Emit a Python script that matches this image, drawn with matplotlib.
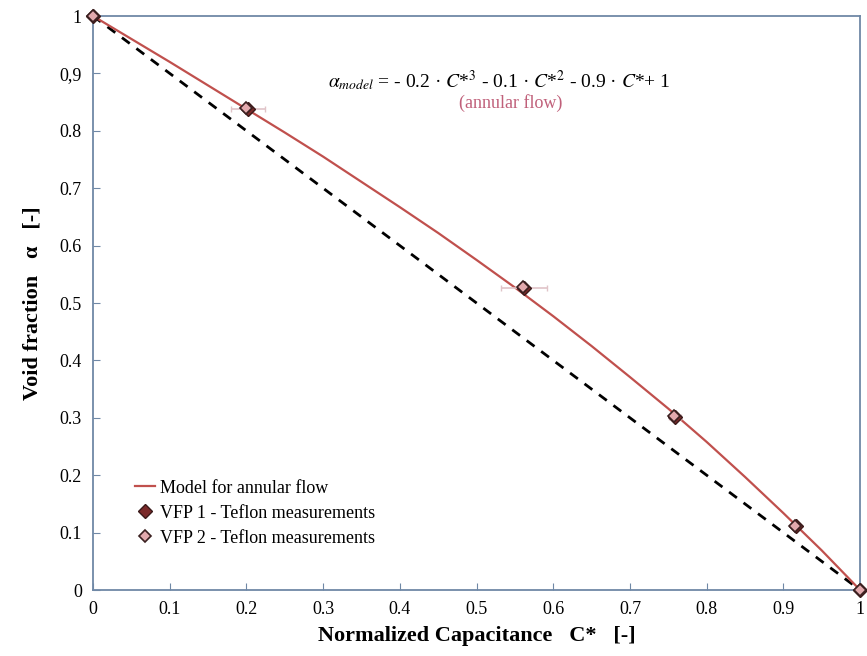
import matplotlib.pyplot as plt

plt.rcParams["font.family"] = ["Liberation Serif", "DejaVu Serif"]
plt.rcParams["mathtext.fontset"] = "stix"

# model curve for annular flow
model_c = [0.0, 0.05, 0.1, 0.15, 0.2, 0.25, 0.3, 0.35, 0.4, 0.45, 0.5,
           0.55, 0.6, 0.65, 0.7, 0.75, 0.8, 0.85, 0.9, 0.95, 1.0]
model_a = [1.0, 0.960, 0.920, 0.879, 0.838, 0.797, 0.755, 0.711, 0.667, 0.622, 0.575,
           0.527, 0.477, 0.425, 0.371, 0.316, 0.258, 0.197, 0.134, 0.069, 0.0]

# homogeneous reference (dashed)
diag_c = [0.0, 1.0]
diag_a = [1.0, 0.0]

# measurements
vfp1_c = [0.0, 0.202, 0.562, 0.759, 0.917, 1.0]
vfp1_a = [1.0, 0.838, 0.526, 0.302, 0.111, 0.0]
vfp2_c = [0.0, 0.199, 0.560, 0.757, 0.915, 1.0]
vfp2_a = [1.0, 0.840, 0.528, 0.304, 0.112, 0.0]
vfp_xerr = [0.0, 0.022, 0.03, 0.008, 0.004, 0.0]

xticks = [0, 0.1, 0.2, 0.3, 0.4, 0.5, 0.6, 0.7, 0.8, 0.9, 1]
yticks = [0, 0.1, 0.2, 0.3, 0.4, 0.5, 0.6, 0.7, 0.8, 0.9, 1]
ytick_labels = ["0", "0.1", "0.2", "0.3", "0.4", "0.5", "0.6", "0.7", "0.8", "0,9", "1"]

frame_col = "#6f88a6"

fig = plt.figure(figsize=(8.67, 6.56), dpi=100)
ax = fig.add_axes([0.1073, 0.1006, 0.8847, 0.875])

ax.plot(diag_c, diag_a, color="black", linestyle=(0, (3.5, 3)), linewidth=2, zorder=2)
ax.plot(model_c, model_a, color="#c0504d", linewidth=1.6, label="Model for annular flow", zorder=3)
ax.errorbar(vfp1_c, vfp1_a, xerr=vfp_xerr, fmt="none", ecolor="#e0c4c8",
            elinewidth=1.2, capsize=2, zorder=3)
ax.plot(vfp1_c, vfp1_a, linestyle="none", marker="D", markersize=7, color="#7b2a2a",
        markeredgecolor="#3a1a1a", label="VFP 1 - Teflon measurements", zorder=4, clip_on=False)
ax.plot(vfp2_c, vfp2_a, linestyle="none", marker="D", markersize=6, color="#e3a9ad",
        markeredgecolor="#3a2020", markeredgewidth=1.2,
        label="VFP 2 - Teflon measurements", zorder=5, clip_on=False)

ax.set_xlim(0, 1)
ax.set_ylim(0, 1)
ax.set_xticks(xticks)
ax.set_xticklabels([f"{t:g}" for t in xticks])
ax.set_yticks(yticks)
ax.set_yticklabels(ytick_labels)
ax.tick_params(direction="in", length=5, color=frame_col, labelsize=13, pad=8)
for s in ax.spines.values():
    s.set_color(frame_col)
    s.set_linewidth(1.3)

ax.set_xlabel("Normalized Capacitance   C*   [-]", fontsize=16, fontweight="bold", labelpad=6)
ax.set_ylabel("Void fraction   α   [-]", fontsize=16, fontweight="bold", labelpad=12)

ax.text(0.53, 0.888,
        r"$\alpha_{model}$ = - 0.2 · $C$*$^3$ - 0.1 · $C$*$^2$ - 0.9 · $C$*+ 1",
        fontsize=14, ha="center", va="center")
ax.text(0.545, 0.848, "(annular flow)", fontsize=13, color="#c0607a", ha="center", va="center")

leg = ax.legend(loc="upper left", bbox_to_anchor=(0.045, 0.205), frameon=False,
                fontsize=13, handlelength=1.1, handletextpad=0.3, labelspacing=0.45,
                borderaxespad=0)

fig.savefig("out.png", dpi=100)
